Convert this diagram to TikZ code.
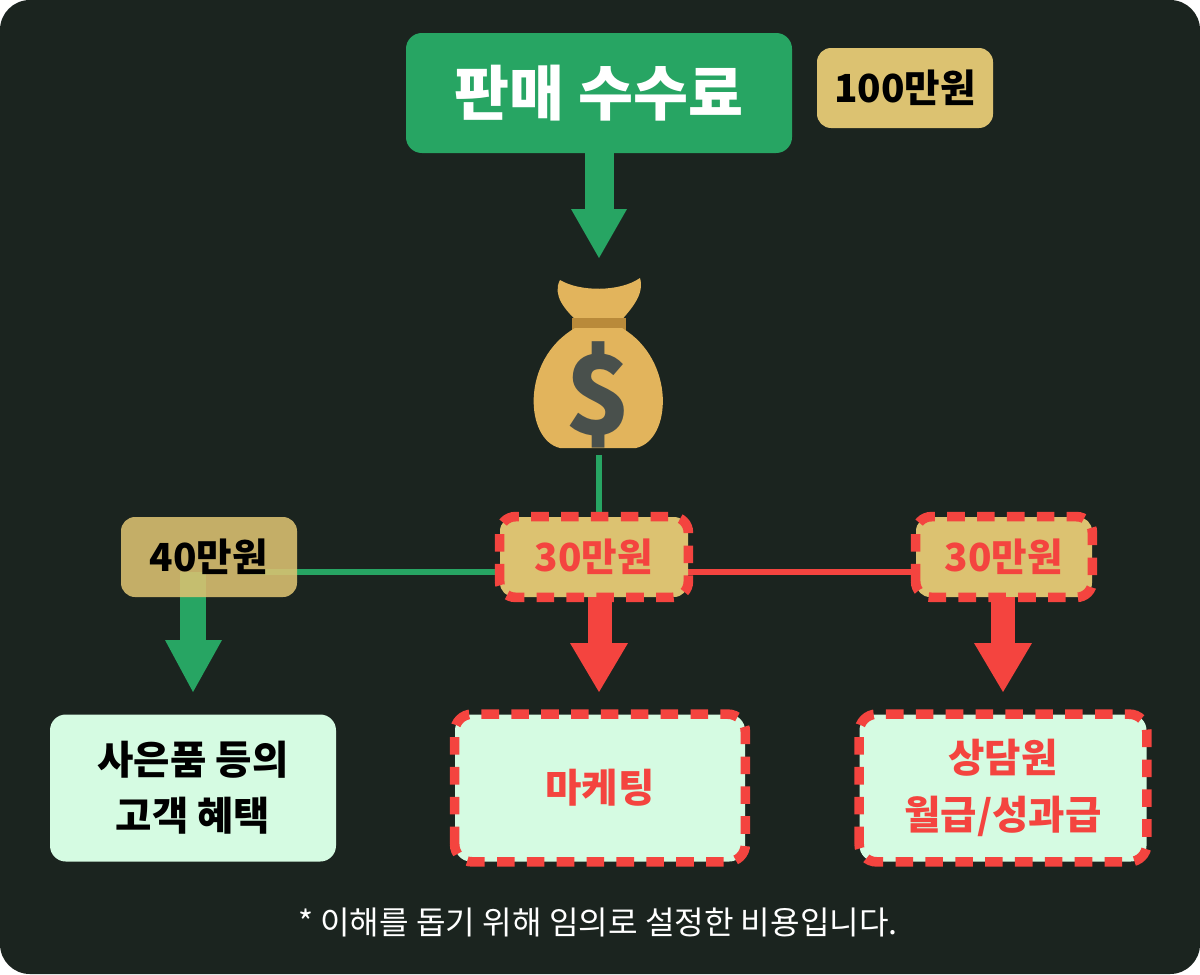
\documentclass[tikz,border=0pt]{standalone}
\usepackage{fontspec}
\setmainfont{Noto Sans CJK KR}
\usetikzlibrary{arrows.meta}
\definecolor{bg}{HTML}{1B241F}
\definecolor{grn}{HTML}{27A563}
\definecolor{gold}{HTML}{DCC271}
\definecolor{rd}{HTML}{F4443F}
\definecolor{mint}{HTML}{D5FBE2}
\definecolor{bagc}{HTML}{E2B45C}
\definecolor{bagd}{HTML}{B98A3A}
\begin{document}
\begin{tikzpicture}[x=0.02cm,y=-0.02cm,
 gbox/.style={fill=gold,rounded corners=8pt,inner sep=0,font=\bfseries\fontsize{22}{26}\selectfont},
 mbox/.style={fill=mint,rounded corners=9pt,inner sep=0,font=\bfseries\fontsize{22.5}{32}\selectfont,align=center},
 rdash/.style={draw=rd,line width=5.5pt,dash pattern=on 10pt off 7pt},
 gl/.style={draw=grn,line width=3.5pt},
 rl/.style={draw=rd,line width=3.5pt}]
\useasboundingbox (0,0) rectangle (1200,974);
\fill[white] (0,0) rectangle (1200,974);
\fill[bg,rounded corners=17pt] (0,0) rectangle (1200,974);
% title
\node[fill=grn,rounded corners=9pt,minimum width=386*0.02cm,minimum height=120*0.02cm,text=white,font=\bfseries\fontsize{34}{40}\selectfont] (t) at (599,93) {판매 수수료};
\node[gbox,minimum width=176*0.02cm,minimum height=80*0.02cm] (h) at (905,88) {100만원};
% top arrow
\fill[grn] (585,153) rectangle (614,211);
\fill[grn] (571,209) -- (627,209) -- (599,258) -- cycle;
% money bag
\fill[bagc] (560,280) .. controls (580,292) and (620,292) .. (640,278) .. controls (645,295) and (630,310) .. (620,322) -- (578,322) .. controls (565,310) and (552,295) .. (560,280) -- cycle;
\fill[bagd] (572,318) rectangle (626,332);
\fill[bagc] (575,328) .. controls (520,360) and (525,440) .. (560,448) -- (636,448) .. controls (672,440) and (676,360) .. (622,328) -- cycle;
\node[text=bg!80,font=\bfseries\fontsize{62}{62}\selectfont] (bag) at (599,395) {\$};
% lines
\draw[gl] (599,455) -- (599,520);
\draw[gl] (250,572) -- (502,572);
\draw[rl] (688,572) -- (920,572);
% value boxes
\fill[grn] (180,572) rectangle (206,642);
\fill[grn] (165,640) -- (222,640) -- (193,692) -- cycle;
\node[gbox,fill opacity=0.88,text opacity=1,minimum width=176*0.02cm,minimum height=80*0.02cm] (v1) at (209,557) {40만원};
\node[gbox,minimum width=188*0.02cm,minimum height=80*0.02cm,text=rd] (v2) at (594,557) {30만원};
\draw[rdash,rounded corners=9pt] (v2.south west) rectangle (v2.north east);
\node[gbox,minimum width=176*0.02cm,minimum height=80*0.02cm,text=rd] (v3) at (1004,557) {30만원};
\draw[rdash,rounded corners=9pt] (v3.south west) rectangle (v3.north east);
% red arrows
\fill[rd] (588,597) rectangle (612,645);
\fill[rd] (570,643) -- (628,643) -- (599,692) -- cycle;
\fill[rd] (991,597) rectangle (1015,645);
\fill[rd] (974,643) -- (1032,643) -- (1003,692) -- cycle;
% bottom boxes
\node[mbox,minimum width=286*0.02cm,minimum height=147*0.02cm] (b1) at (193,788) {사은품 등의\\고객 혜택};
\node[mbox,minimum width=290*0.02cm,minimum height=147*0.02cm,text=rd] (b2) at (600,788) {마케팅};
\draw[rdash,rounded corners=10pt] (b2.south west) rectangle (b2.north east);
\node[mbox,minimum width=287*0.02cm,minimum height=147*0.02cm,text=rd] (b3) at (1003,788) {상담원\\월급/성과급};
\draw[rdash,rounded corners=10pt] (b3.south west) rectangle (b3.north east);
\node[text=white,font=\fontsize{18.3}{22}\selectfont] (f) at (598,922) {* 이해를 돕기 위해 임의로 설정한 비용입니다.};
\end{tikzpicture}
\end{document}
